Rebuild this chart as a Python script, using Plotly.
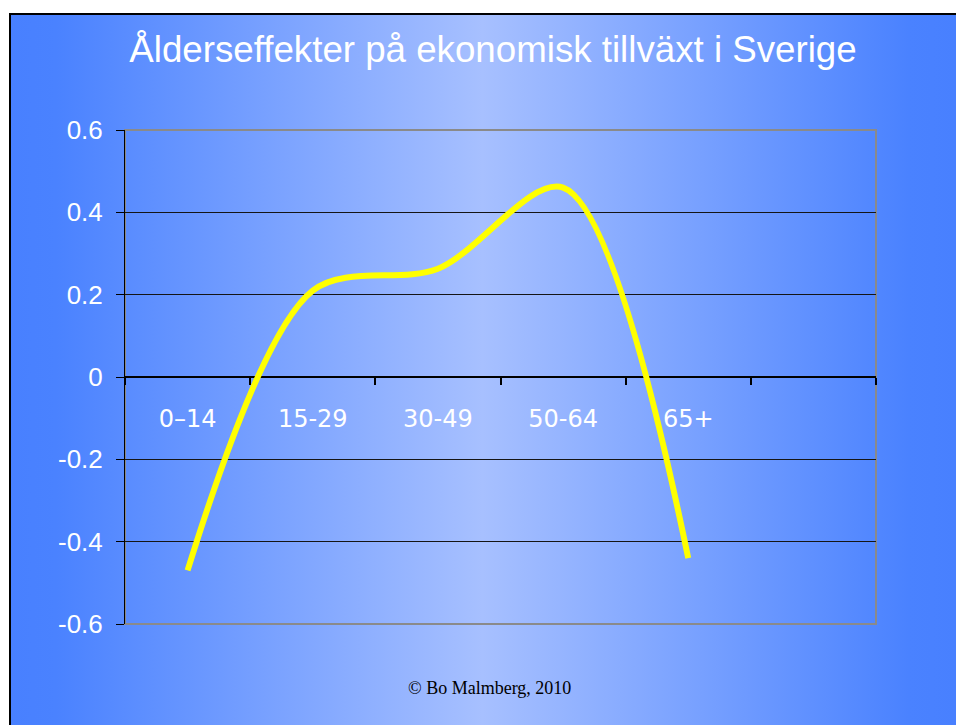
import base64
import plotly.graph_objects as go

# ---- data ----
categories = ["0–14", "15-29", "30-49", "50-64", "65+"]
axis_slots = categories + [" "]
effect = [-0.47, 0.21, 0.263, 0.46, -0.44]
y_tickvals = [-0.6, -0.4, -0.2, 0, 0.2, 0.4, 0.6]
y_ticktext = ["-0.6", "-0.4", "-0.2", "0", "0.2", "0.4", "0.6"]
title_text = "Ålderseffekter på ekonomisk tillväxt i Sverige"
credit_text = "© Bo Malmberg, 2010"

# ---- layout geometry ----
W, H = 956, 725
L, R, T, B = 125, 80, 130, 101
PW, PH = W - L - R, H - T - B


def px_x(px):
    return (px - L) / PW


def px_y(py):
    return (H - B - py) / PH


svg = f'''<svg xmlns="http://www.w3.org/2000/svg" width="{W}" height="{H}" viewBox="0 0 {W} {H}" preserveAspectRatio="none">
<defs><linearGradient id="g" x1="0" y1="0" x2="1" y2="0">
<stop offset="0" stop-color="#4880ff"/>
<stop offset="0.05" stop-color="#4a82ff"/>
<stop offset="0.5" stop-color="#a7c0ff"/>
<stop offset="0.95" stop-color="#4a82ff"/>
<stop offset="1" stop-color="#4880ff"/>
</linearGradient></defs>
<rect x="0" y="0" width="{W}" height="{H}" fill="#ffffff"/>
<rect x="9" y="13" width="{W - 9}" height="{H - 13}" fill="url(#g)"/>
<rect x="9" y="13" width="{W - 9}" height="2" fill="#000000"/>
<rect x="9" y="13" width="2" height="{H - 13}" fill="#000000"/>
</svg>'''
bg_uri = "data:image/svg+xml;base64," + base64.b64encode(svg.encode("utf-8")).decode("ascii")

fig = go.Figure()
fig.add_trace(go.Scatter(
    x=categories, y=effect, mode="lines",
    line=dict(color="#ffff00", width=6, shape="spline", smoothing=0.9),
    hoverinfo="skip", showlegend=False,
))

fig.update_layout(
    width=W, height=H,
    margin=dict(l=L, r=R, t=T, b=B, pad=0),
    paper_bgcolor="#ffffff",
    plot_bgcolor="rgba(0,0,0,0)",
    showlegend=False,
    title=dict(text=title_text, x=493 / W, xref="container", xanchor="center",
               y=1 - 49 / H, yref="container", yanchor="middle",
               font=dict(family="Liberation Sans, Arial, sans-serif", size=36.7, color="#ffffff")),
    images=[dict(source=bg_uri, xref="paper", yref="paper",
                 x=-L / PW, y=1 + T / PH, sizex=W / PW, sizey=H / PH,
                 xanchor="left", yanchor="top", sizing="stretch", layer="below")],
    shapes=[dict(type="rect", xref="paper", yref="paper", x0=0, x1=1, y0=0, y1=1,
                 line=dict(color="#8a8a8a", width=2), fillcolor="rgba(0,0,0,0)", layer="between")],
    annotations=[dict(text=credit_text, xref="paper", yref="paper",
                      x=px_x(489), y=px_y(688), xanchor="center", yanchor="middle",
                      showarrow=False,
                      font=dict(family="Liberation Serif, Times New Roman, serif", size=18, color="#000000"))],
    xaxis=dict(
        type="category", categoryorder="array", categoryarray=axis_slots,
        range=[-0.5, len(axis_slots) - 0.5],
        anchor="free", position=0.5,
        showline=True, linecolor="#000000", linewidth=2,
        ticks="outside", tickson="boundaries", ticklen=7, tickwidth=2, tickcolor="#000000",
        showgrid=False, zeroline=False,
        tickfont=dict(family="DejaVu Sans, Verdana, sans-serif", size=24, color="#ffffff"),
        ticklabelstandoff=20,
        layer="below traces", fixedrange=True,
    ),
    yaxis=dict(
        range=[-0.6, 0.6], tickvals=y_tickvals, ticktext=y_ticktext,
        showline=True, linecolor="#000000", linewidth=1,
        ticks="outside", ticklen=8, tickwidth=1, tickcolor="#000000",
        showgrid=True, gridcolor="#151515", gridwidth=1,
        zeroline=False,
        tickfont=dict(family="Liberation Sans, Arial, sans-serif", size=26, color="#ffffff"),
        ticklabelstandoff=8,
        layer="below traces", fixedrange=True,
    ),
)

fig.write_html(
    "out.html",
    config={"displayModeBar": False},
    post_script="document.body.style.margin='0';document.body.style.overflow='hidden';",
)
